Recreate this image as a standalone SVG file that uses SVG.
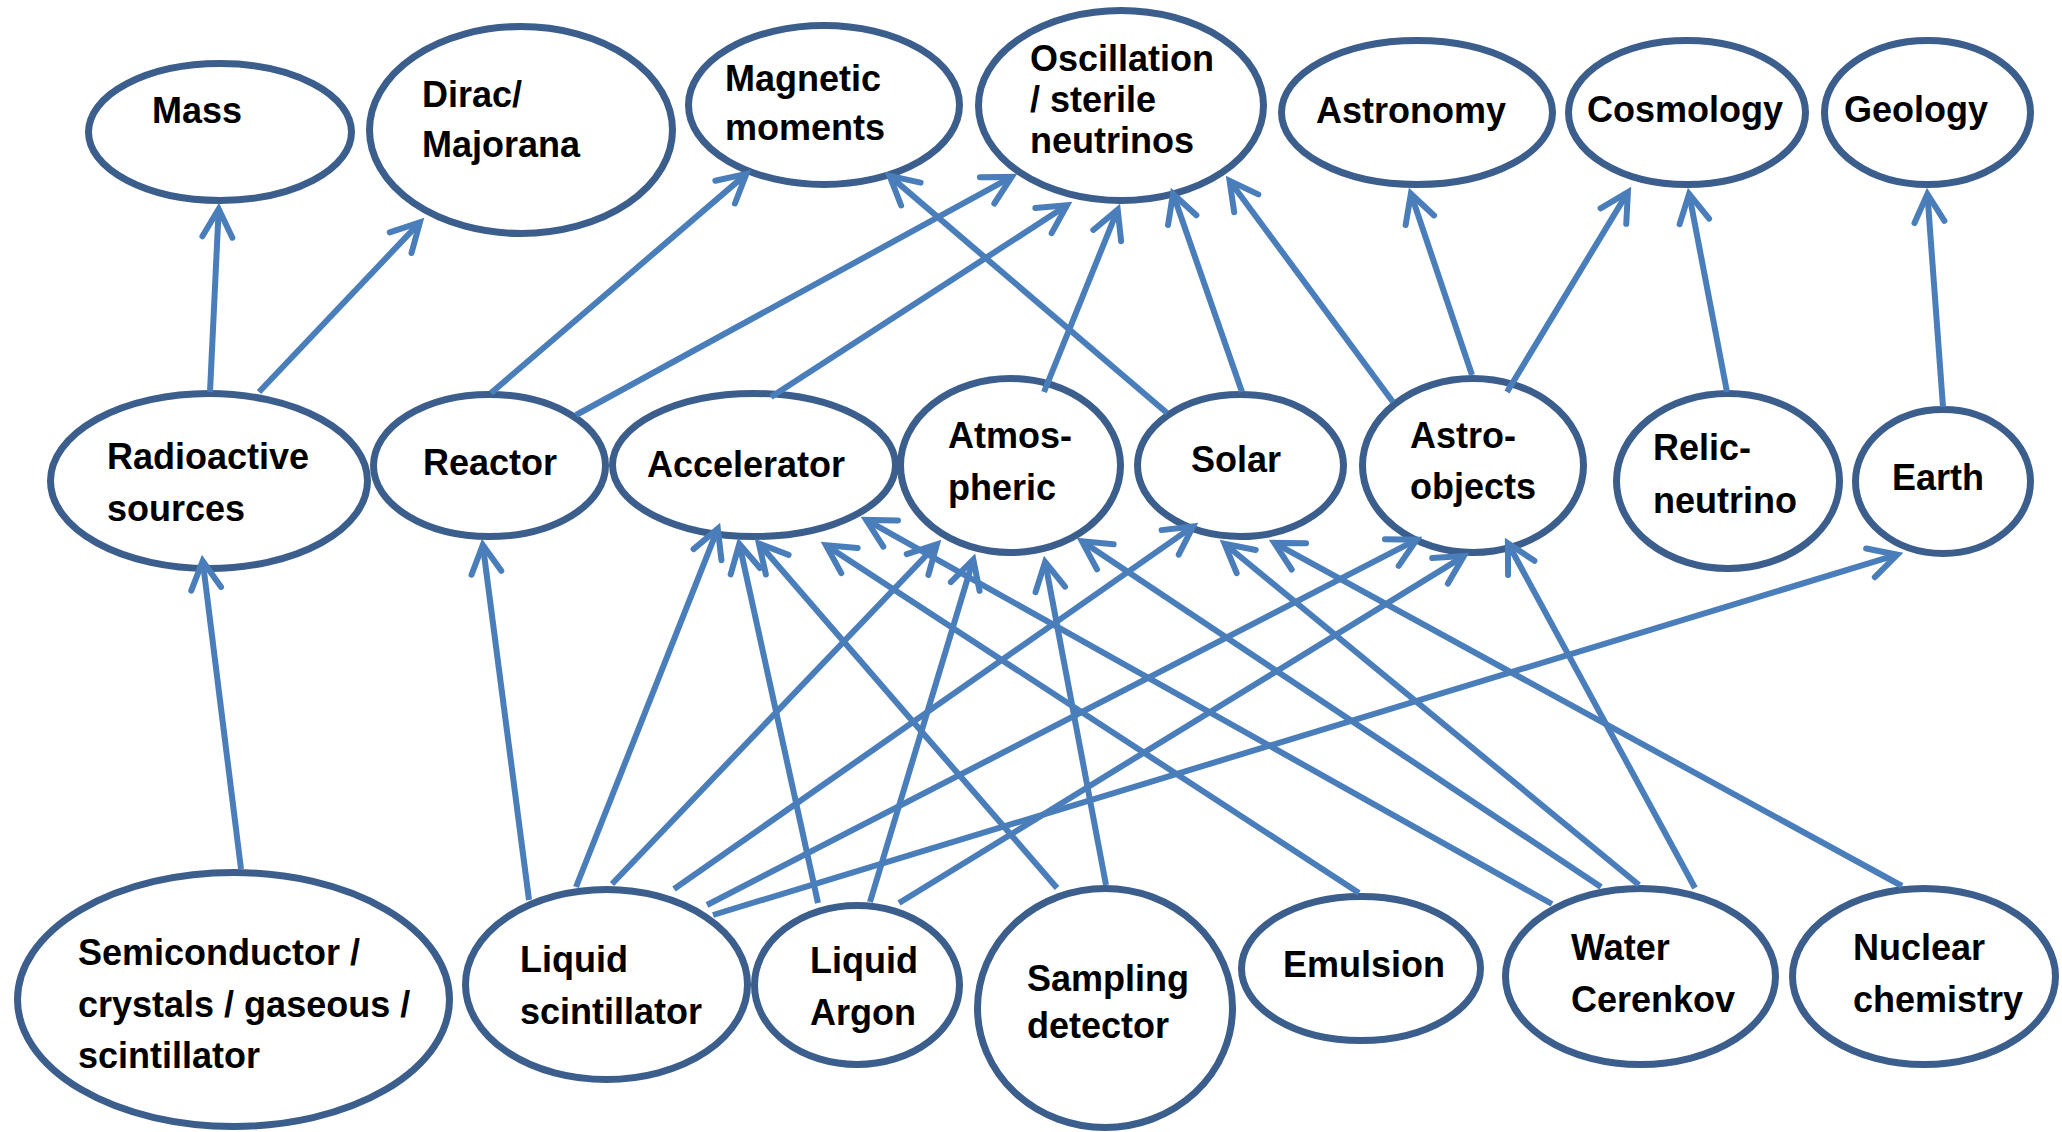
<svg xmlns="http://www.w3.org/2000/svg" width="2062" height="1132" viewBox="0 0 2062 1132">
<style>
.n ellipse{fill:#fff;stroke:#3B5E8C;stroke-width:7}
.n text{font-family:"Liberation Sans",Arial,sans-serif;font-weight:bold;font-size:36px;fill:#000}
#edges line{stroke:#4A7EBB;stroke-width:6;fill:none;marker-end:url(#ah)}
</style>
<defs>
<marker id="ah" markerUnits="userSpaceOnUse" viewBox="-40 -22 50 44" markerWidth="50" markerHeight="44" refX="0" refY="0" orient="auto" overflow="visible">
<path d="M-28,-15 L0,0 L-28,15" fill="none" stroke="#4A7EBB" stroke-width="6" stroke-linecap="round" stroke-linejoin="miter"/>
</marker>
</defs>
<rect width="2062" height="1132" fill="#fff"/>
<g id="nodes">
<g id="mass" class="n"><ellipse cx="220" cy="132" rx="131.5" ry="68.5"/><text x="152" y="123">Mass</text></g>
<g id="dirac" class="n"><ellipse cx="521" cy="130" rx="151.5" ry="103.5"/><text x="422" y="107">Dirac/</text><text x="422" y="157">Majorana</text></g>
<g id="magnetic" class="n"><ellipse cx="824" cy="105" rx="135.5" ry="79.5"/><text x="725" y="91">Magnetic</text><text x="725" y="140">moments</text></g>
<g id="oscillation" class="n"><ellipse cx="1121" cy="105.5" rx="142.5" ry="95"/><text x="1030" y="71">Oscillation</text><text x="1030" y="112">/ sterile</text><text x="1030" y="153">neutrinos</text></g>
<g id="astronomy" class="n"><ellipse cx="1417" cy="112.5" rx="135.5" ry="72"/><text x="1316" y="123">Astronomy</text></g>
<g id="cosmology" class="n"><ellipse cx="1687" cy="112.5" rx="118.5" ry="72"/><text x="1587" y="122">Cosmology</text></g>
<g id="geology" class="n"><ellipse cx="1927.5" cy="112.5" rx="103" ry="72"/><text x="1844" y="122">Geology</text></g>
<g id="radioactive" class="n"><ellipse cx="209" cy="481" rx="158.5" ry="87.5"/><text x="107" y="469">Radioactive</text><text x="107" y="521">sources</text></g>
<g id="reactor" class="n"><ellipse cx="489.5" cy="465.5" rx="116" ry="71"/><text x="423" y="475">Reactor</text></g>
<g id="accelerator" class="n"><ellipse cx="754" cy="465" rx="141.5" ry="71.5"/><text x="647" y="477">Accelerator</text></g>
<g id="atmospheric" class="n"><ellipse cx="1010.5" cy="465.5" rx="110" ry="87"/><text x="948" y="448">Atmos-</text><text x="948" y="500">pheric</text></g>
<g id="solar" class="n"><ellipse cx="1240.5" cy="465.5" rx="103" ry="71"/><text x="1191" y="472">Solar</text></g>
<g id="astro-objects" class="n"><ellipse cx="1473" cy="465.5" rx="110.5" ry="87"/><text x="1410" y="448">Astro-</text><text x="1410" y="499">objects</text></g>
<g id="relic" class="n"><ellipse cx="1728" cy="481" rx="111.5" ry="87.5"/><text x="1653" y="460">Relic-</text><text x="1653" y="513">neutrino</text></g>
<g id="earth" class="n"><ellipse cx="1943" cy="481.5" rx="87.5" ry="72"/><text x="1892" y="490">Earth</text></g>
<g id="semiconductor" class="n"><ellipse cx="233.5" cy="999.5" rx="216" ry="127"/><text x="78" y="965">Semiconductor /</text><text x="78" y="1017">crystals / gaseous /</text><text x="78" y="1068">scintillator</text></g>
<g id="liquid-scintillator" class="n"><ellipse cx="606.5" cy="984.5" rx="141" ry="95"/><text x="520" y="972">Liquid</text><text x="520" y="1024">scintillator</text></g>
<g id="liquid-argon" class="n"><ellipse cx="857" cy="985" rx="102.5" ry="79.5"/><text x="810" y="973">Liquid</text><text x="810" y="1025">Argon</text></g>
<g id="sampling" class="n"><ellipse cx="1105" cy="1008" rx="127.5" ry="119.5"/><text x="1027" y="991">Sampling</text><text x="1027" y="1038">detector</text></g>
<g id="emulsion" class="n"><ellipse cx="1361" cy="968.5" rx="119.5" ry="72"/><text x="1283" y="977">Emulsion</text></g>
<g id="water" class="n"><ellipse cx="1640.5" cy="976.5" rx="135" ry="88"/><text x="1571" y="960">Water</text><text x="1571" y="1012">Cerenkov</text></g>
<g id="nuclear" class="n"><ellipse cx="1924" cy="976.5" rx="131.5" ry="88"/><text x="1853" y="960">Nuclear</text><text x="1853" y="1012">chemistry</text></g>
</g>
<g id="edges">
<line x1="210" y1="392" x2="218.7" y2="209"/>
<line x1="259" y1="392" x2="419.9" y2="222.4"/>
<line x1="491" y1="393" x2="746.4" y2="173.9"/>
<line x1="576" y1="415" x2="1011.7" y2="176.9"/>
<line x1="771" y1="397" x2="1067" y2="205.3"/>
<line x1="1044" y1="392" x2="1117.7" y2="209.6"/>
<line x1="1167" y1="413" x2="889.6" y2="175.9"/>
<line x1="1242" y1="392" x2="1173" y2="193.7"/>
<line x1="1393" y1="402" x2="1229.6" y2="180.8"/>
<line x1="1472" y1="375" x2="1410.9" y2="193.7"/>
<line x1="1507" y1="392" x2="1627.9" y2="192.1"/>
<line x1="1727" y1="392" x2="1689.1" y2="193.9"/>
<line x1="1943" y1="407" x2="1927.4" y2="194"/>
<line x1="241" y1="869" x2="202.7" y2="561"/>
<line x1="529" y1="900" x2="482.8" y2="545"/>
<line x1="576" y1="887" x2="717.8" y2="528.6"/>
<line x1="612" y1="884" x2="936.9" y2="544.3"/>
<line x1="674" y1="889" x2="1193.1" y2="526.4"/>
<line x1="707" y1="905" x2="1416.7" y2="539.7"/>
<line x1="713" y1="915" x2="1897.3" y2="554.7"/>
<line x1="818" y1="903" x2="739.3" y2="543.9"/>
<line x1="870" y1="902" x2="973.3" y2="559.7"/>
<line x1="899" y1="903" x2="1463.9" y2="556.1"/>
<line x1="1057" y1="888" x2="758.9" y2="543.5"/>
<line x1="1106" y1="885" x2="1045.1" y2="561.9"/>
<line x1="1359" y1="893" x2="826" y2="545.3"/>
<line x1="1552" y1="904" x2="866.2" y2="519.9"/>
<line x1="1601" y1="887" x2="1082" y2="541.3"/>
<line x1="1639" y1="885" x2="1224.6" y2="543.8"/>
<line x1="1695" y1="888" x2="1507.9" y2="543.3"/>
<line x1="1902" y1="886" x2="1274.3" y2="542.9"/>
</g>
</svg>
